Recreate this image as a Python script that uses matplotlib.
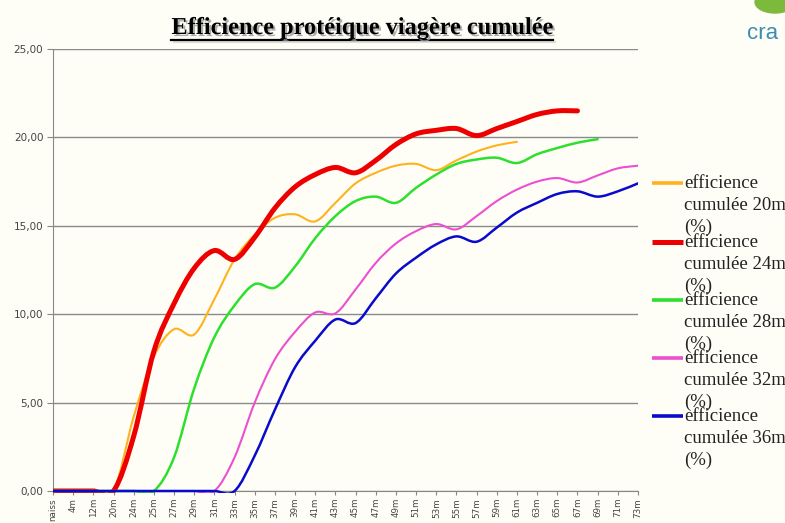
import numpy as np
import matplotlib
matplotlib.use('Agg')
import matplotlib.pyplot as plt
from matplotlib.path import Path
from matplotlib.patches import PathPatch, Rectangle, Ellipse
from matplotlib.lines import Line2D
import matplotlib.patheffects as pe

# categories de l'axe x
mois = ['naiss', '4m', '12m', '20m', '24m', '25m', '27m', '29m', '31m', '33m',
        '35m', '37m', '39m', '41m', '43m', '45m', '47m', '49m', '51m', '53m',
        '55m', '57m', '59m', '61m', '63m', '65m', '67m', '69m', '71m', '73m']

# efficience cumulee (%)
eff_20m = [0, 0, 0, 0, 4.2, 7.6, 9.15, 8.85, 10.85, 13.1, 14.5, 15.45, 15.65,
           15.25, 16.3, 17.4, 18.0, 18.4, 18.5, 18.15, 18.7, 19.2, 19.55, 19.75]
eff_24m = [0, 0, 0, 0, 3.1, 7.9, 10.6, 12.6, 13.6, 13.1, 14.35, 16.0, 17.2,
           17.9, 18.3, 18.0, 18.7, 19.6, 20.2, 20.4, 20.5, 20.1, 20.5, 20.9,
           21.3, 21.5, 21.5]
eff_28m = [0, 0, 0, 0, 0, 0, 1.9, 5.8, 8.7, 10.5, 11.7, 11.5, 12.7, 14.3,
           15.55, 16.4, 16.65, 16.3, 17.15, 17.9, 18.5, 18.75, 18.85, 18.55,
           19.05, 19.4, 19.7, 19.9]
eff_32m = [0, 0, 0, 0, 0, 0, 0, 0, 0, 1.9, 5.0, 7.45, 9.0, 10.1, 10.05, 11.4,
           12.9, 14.0, 14.7, 15.1, 14.8, 15.55, 16.4, 17.05, 17.5, 17.7, 17.45,
           17.85, 18.25, 18.4]
eff_36m = [0, 0, 0, 0, 0, 0, 0, 0, 0, 0, 2.0, 4.6, 7.0, 8.5, 9.7, 9.5, 10.9,
           12.3, 13.2, 13.95, 14.4, 14.1, 14.9, 15.75, 16.3, 16.8, 16.95,
           16.65, 16.95, 17.4]

series = [
    ('efficience\ncumulée 20m\n(%)', eff_20m, '#FFB21E', 1.5),
    ('efficience\ncumulée 24m\n(%)', eff_24m, '#EE0000', 3.6),
    ('efficience\ncumulée 28m\n(%)', eff_28m, '#2EE02E', 1.8),
    ('efficience\ncumulée 32m\n(%)', eff_32m, '#EC4FD0', 1.5),
    ('efficience\ncumulée 36m\n(%)', eff_36m, '#0A0ACC', 1.8),
]


def lisse(y):
    # courbe lissee facon excel (bezier catmull-rom)
    pts = np.column_stack([np.arange(len(y), dtype=float), np.asarray(y, float)])
    p = np.vstack([pts[0], pts, pts[-1]])
    verts = [pts[0]]
    codes = [Path.MOVETO]
    for i in range(len(pts) - 1):
        p0, p1, p2, p3 = p[i], p[i + 1], p[i + 2], p[i + 3]
        verts += [p1 + (p2 - p0) / 6, p2 - (p3 - p1) / 6, p2]
        codes += [Path.CURVE4] * 3
    return Path(verts, codes)


W, H = 785, 523
fond = '#FEFEF7'
fig = plt.figure(figsize=(W / 100, H / 100), dpi=100, facecolor=fond)
ax = fig.add_axes([53 / W, 1 - 491 / H, (638 - 53) / W, (491 - 49) / H])
ax.set_facecolor(fond)

# zone de coupe un peu sous l'axe pour garder l'epaisseur du trait a 0
clip = Rectangle((0, -0.004), 1, 1.01, transform=ax.transAxes,
                 fill=False, visible=False)
ax.add_patch(clip)
for lab, val, col, lw in series:
    pp = PathPatch(lisse(val), fill=False, edgecolor=col, lw=lw,
                   zorder=3, capstyle='round', joinstyle='round')
    ax.add_patch(pp)
    pp.set_clip_path(clip)

ax.set_xlim(0, len(mois) - 1)
ax.set_ylim(0, 25)
ax.set_yticks([0, 5, 10, 15, 20, 25])
ax.set_yticklabels(['0,00', '5,00', '10,00', '15,00', '20,00', '25,00'],
                   fontsize=7.5, color='#444444', family='Liberation Sans Narrow')
ax.set_xticks(range(len(mois)))
ax.set_xticklabels(mois, rotation=90, fontsize=6.3, color='#444444',
                   family='Liberation Sans Narrow')
ax.tick_params(axis='y', length=4, color='#888888', pad=3)
ax.tick_params(axis='x', length=3, color='#888888', pad=2)
ax.yaxis.grid(True, color='#8a8a8a', lw=1)
ax.set_axisbelow(True)
for s in ['top', 'right']:
    ax.spines[s].set_visible(False)
for s in ['left', 'bottom']:
    ax.spines[s].set_color('#888888')

# legende a droite
ys = [183, 242, 300, 358, 416]
for (lab, val, col, lw), y in zip(series, ys):
    fig.add_artist(Line2D([652 / W, 683 / W], [1 - y / H, 1 - y / H],
                          transform=fig.transFigure, color=col,
                          lw=max(lw, 2.6), solid_capstyle='butt'))
    fig.text(684 / W, 1 - (y - 8) / H, lab, ha='left', va='top',
             fontsize=13.5, family='Liberation Serif', color='#222222',
             linespacing=1.36)

# titre souligne avec ombre
ombre = [pe.SimplePatchShadow(offset=(1.5, -1.5), shadow_rgbFace='#999999',
                              alpha=0.8), pe.Normal()]
titre = fig.text(362 / W, 1 - 34 / H, 'Efficience protéique viagère cumulée',
                 ha='center', va='baseline', fontsize=17.5, fontweight='bold',
                 family='Liberation Serif', path_effects=ombre)
fig.canvas.draw()
bb = titre.get_window_extent()
yl = bb.y0 - 1
fig.add_artist(Line2D([bb.x0 / W, bb.x1 / W], [yl / H, yl / H],
                      transform=fig.transFigure, color='black', lw=1.6,
                      path_effects=[pe.SimpleLineShadow(offset=(1.5, -1.5),
                                                        shadow_color='#999999'),
                                    pe.Normal()]))

# logo
fig.text(747 / W, 1 - 39 / H, 'cra', fontsize=16, color='#3C8DB4',
         family='Liberation Sans')
fig.add_artist(Ellipse((775 / W, 1 - 2 / H), 40 / W, 22 / H,
                       transform=fig.transFigure, color='#7DBA3C'))

fig.savefig('out.png', dpi=100, facecolor=fond)
